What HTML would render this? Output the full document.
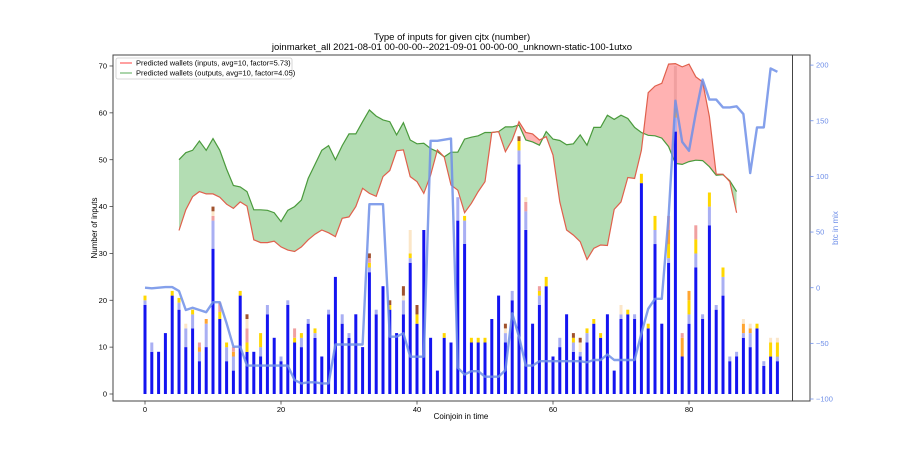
<!DOCTYPE html>
<html><head><meta charset="utf-8"><style>
body{margin:0;background:#fff;}
svg{display:block;font-family:"Liberation Sans","DejaVu Sans",sans-serif;}
</style></head><body>
<svg id="chart" width="900" height="450" viewBox="0 0 900 450" xmlns="http://www.w3.org/2000/svg">
<text x="452" y="40" font-size="9.5" text-anchor="middle" fill="#000">Type of inputs for given cjtx (number)</text>
<text x="452" y="50" font-size="9.5" text-anchor="middle" fill="#000">joinmarket_all 2021-08-01 00-00-00--2021-09-01 00-00-00_unknown-static-100-1utxo</text>
<defs>
<clipPath id="plotclip"><rect x="113" y="55" width="697" height="346"/></clipPath>
<clipPath id="belowG"><polygon id="belowGpoly"/></clipPath>
<clipPath id="belowR"><polygon id="belowRpoly"/></clipPath>
</defs>
<g id="bands" clip-path="url(#plotclip)"></g>
<g id="bars"></g>
<g id="lines" clip-path="url(#plotclip)"></g>
<rect x="113" y="55" width="697" height="346" fill="none" stroke="#444" stroke-width="1"/>
<line x1="792.5" y1="55" x2="792.5" y2="401" stroke="#444" stroke-width="1"/>
<g id="axes"></g>
<text x="461" y="419" font-size="8" text-anchor="middle">Coinjoin in time</text>
<text transform="translate(97,228) rotate(-90)" font-size="8" text-anchor="middle">Number of inputs</text>
<text transform="translate(838,228) rotate(-90)" font-size="8" text-anchor="middle" fill="#6f8fe8">btc in mix</text>
<g>
<rect x="116" y="58" width="176" height="21" fill="#fff" fill-opacity="0.8" stroke="#ccc" stroke-width="0.8" rx="2"/>
<line x1="120" y1="63" x2="132" y2="63" stroke="#ff8080" stroke-width="1.5"/>
<text x="136" y="65.5" font-size="7.5">Predicted wallets (inputs, avg=10, factor=5.73)</text>
<line x1="120" y1="73" x2="132" y2="73" stroke="#8fc78f" stroke-width="1.5"/>
<text x="136" y="75.5" font-size="7.5">Predicted wallets (outputs, avg=10, factor=4.05)</text>
</g>
</svg>
<script>
const blueVals=[19,9,9,13,21,18,10,14,7,10,31,16,7,5,21,9,9,8,17,12,7,19,11,10,15,12,8,17,25,15,12,17,10,26,17,23,18,13,17,28,15,35,12,5,12,11,37,32,11,11,11,16,21,11,20,49,35,15,19,23,8,10,17,9,8,11,15,12,17,5,16,17,16,45,14,32,15,28,56,8,15,27,16,36,18,21,7,8,12,10,14,6,8,7];
const lightVals=[1,2,0,0,0,1.5,4,3,2,5,6,0,3,3,0,0,0,2,2,0,1,1,0,2,1,1,0,1,0,2,1,0,0,1,1,0,0,0,3,1,0,0,0,0,0,0,5,5,0,0,0,0,0,2,2,3,4,0,2,0,0,2,0,2,1,2,0,0,0,0,1,0,1,0,0,3,0,1,3,0,2,3,1,4,1,4,1,1,1,3,0,1,0,1];
const yellowVals=[1,0,0,0,1,1,0,1,0,0,0,1.5,1,0,1,2,0,3,0,0,0,0,1,1,0,1,0,0,0,0,0,0,0,1,0,0,1,0,0,1,2,0,0,0,1,0,0,1,1,1,1,0,0,0,0,2,0,0,1,2,0,0,0,1,0,1,1,1,0,0,0,1,0,2,1,3,0,3,0,0,3,3,0,3,0,2,0,0,0,0,1,0,3,3];
const orangeVals=[0,0,0,0,0,0,0,0,1,1,0,0,0,1,0,0,0,0,0,0,0,0,0,0,0,0,0,0,0,0,0,0,0,0,0,0,0,0,0,0,0,0,0,0,0,0,0,0,0,0,0,0,0,0,0,0,0,0,0,0,0,0,0,0,0,0,0,0,0,0,0,0,0,0,0,0,0,3,2,4,2,0,0,0,0,0,0,0,2,1,0,0,0,0];
const pinkVals=[0,0,0,0,0,0,0,0,1,0,1,2,0,1,0,3,0,0,0,0,0,0,2,0,0,0,0,0,0,0,0,0,0,1,0,0,0,0,0,0,0,0,0,0,0,0,0,0,0,0,0,0,0,0,0,0,2,0,1,0,0,0,0,0,0,0,0,0,0,0,0,0,0,0,0,0,0,3,9,1,0,3,0,0,0,0,0,0,0,0,0,0,0,0];
const creamVals=[0,0,0,0,0,0,1,0,0,0,1,0,0,0,0,2,0,0,0,0,0,0,0,0,0,0,0,0,0,0,0,0,0,0,0,0,0,0,1,5,0,0,0,0,0,0,0,0,0,0,0,0,0,1,0,0,1,0,0,0,0,0,0,0,2,0,0,0,0,0,2,0,0,0,0,0,0,0,0,0,0,0,0,0,0,0,0,0,1,1,0,0,1,1];
const brownVals=[0,0,0,0,0,0,0,0,0,0,1,0,0,0,0,1,0,0,0,0,0,0,0,0,0,0,0,0,0,0,0,0,0,1,0,0,1,0,2,0,2,0,0,0,0,0,0,0,0,0,0,0,0,1,0,1,0,0,0,0,0,0,0,1,1,0,0,0,0,0,0,0,0,0,0,0,0,0,0,0,0,0,0,0,0,0,0,0,0,0,0,0,0,0];
const bandStart=5;
const outputsVals=[50,51.5,52,54,52,54.5,52,48,44.5,44.2,43.2,39.3,39.3,39.2,38.7,36.8,39.2,40,41.4,46,49,52,53,50,53,55.5,55.5,58.1,60.6,59.3,58.5,58.1,55.3,57.9,54.2,53.4,53.5,52.4,51.7,50.6,51.6,51.6,54.4,54.8,55.1,55.8,55.8,56,57,57,57.4,54.2,53.8,53.1,56,54.4,54.1,53.2,53.4,55.3,53.1,56.9,56.9,59.5,58.6,59.5,58.8,56.9,55.8,55.2,55.1,54.6,52.8,49.2,49,49.6,49.9,49.8,48.5,46.7,46.8,45.5,43.2];
const inputsVals=[34.9,39.3,42.1,43.2,42.7,42.7,42,40.5,39.6,41,40.1,32.9,32.3,32.3,32.6,31.4,30.7,30.4,31.4,32.9,34.1,35,34.4,33.6,37.5,37.8,40,43.9,42.8,42.2,46.4,47.7,51.9,52.1,46.4,45.3,42.8,46.7,52.1,50.6,44.6,43.5,38.7,40.7,43.2,45.3,55.8,56,51.7,54.2,58.1,55.8,55.5,54.2,54.9,51,41,35,33.9,32.5,28.7,31.1,31.8,31.7,39.4,41,46.2,46,52,64.3,65.7,66.3,70.4,70.5,69.8,70.4,67.7,66.6,59.2,46.9,46.9,45.3,38.7];
const btcVals=[0,-0.5,0,0.5,0.5,-3,-20,-18,-20,-22,-13,-13,-32,-53,-53,-70,-70,-70,-70,-70,-70,-70,-83,-86,-85,-85,-86,-86,-51,-51,-51,-51,-51,75,75,75,-44,-44,-41,-62,-62,-62,132,132,133,134,-72,-78,-75,-75,-80,-80,-80,-74,-23,-44,-70,-70,-66,-66,-66,-66,-66,-66,-66,-67,-65,-65,-60,-65,-65,-65,-65,-41,-19,-10,-10,64,168,131,123,157,187,169,169,162,162,163,156,103,144,144,197,194];
const xTicks=[0,20,40,60,80];
const yTicks=[0,10,20,30,40,50,60,70];
const rTicks=[-100,-50,0,50,100,150,200];

const NS='http://www.w3.org/2000/svg';
const X=i=>145+6.8*i;
const YL=v=>394-4.686*v;
const YR=v=>287.7-1.113*v;
function mk(tag,attrs,parent){const e=document.createElementNS(NS,tag);for(const k in attrs)e.setAttribute(k,attrs[k]);parent.appendChild(e);return e;}

// bands
const plotTop=55,plotBot=401;
const gPts=outputsVals.map((v,i)=>X(bandStart+i).toFixed(1)+','+YL(v).toFixed(1));
const rPts=inputsVals.map((v,i)=>X(bandStart+i).toFixed(1)+','+YL(v).toFixed(1));
const bx0=X(bandStart),bx1=X(bandStart+outputsVals.length-1);
document.getElementById('belowGpoly').setAttribute('points',gPts.join(' ')+' '+bx1+','+plotBot+' '+bx0+','+plotBot);
document.getElementById('belowRpoly').setAttribute('points',rPts.join(' ')+' '+bx1+','+plotBot+' '+bx0+','+plotBot);
const bands=document.getElementById('bands');
const gFill=mk('polygon',{points:rPts.join(' ')+' '+bx1+','+plotTop+' '+bx0+','+plotTop,fill:'#2ca02c','fill-opacity':'0.36','clip-path':'url(#belowG)'},bands);


const rFill=mk('polygon',{points:gPts.join(' ')+' '+bx1+','+plotTop+' '+bx0+','+plotTop,fill:'#ff0000','fill-opacity':'0.3','clip-path':'url(#belowR)'},bands);


const gLine=mk('polyline',{points:gPts.join(' '),fill:'none',stroke:'#4a9a3c','stroke-width':'1.2'},bands);


const rLine=mk('polyline',{points:rPts.join(' '),fill:'none',stroke:'#e0604c','stroke-width':'1.2'},bands);



// bars
const bars=document.getElementById('bars');
const stacks=[[blueVals,'#1414f0'],[lightVals,'#a9aff3'],[yellowVals,'#ffd700'],[orangeVals,'#ffa530'],[pinkVals,'#f0a0a0'],[creamVals,'#fbe6c8'],[brownVals,'#a0522d']];
const stackNames=['bar-blue','bar-light','bar-yellow','bar-orange','bar-pink','bar-cream','bar-brown'];
blueVals.forEach((_,i)=>{
  let base=0;
  stacks.forEach(([arr,col],s)=>{
    const v=arr[i];
    if(v>0){
      const r=mk('rect',{x:(X(i)-1.5).toFixed(1),y:YL(base+v).toFixed(1),width:3,height:(YL(base)-YL(base+v)).toFixed(1),fill:col},bars);
      
      
    }
    base+=v;
  });
});

// btc line
const lines=document.getElementById('lines');
const bl=mk('polyline',{points:btcVals.map((v,i)=>X(i).toFixed(1)+','+YR(v).toFixed(1)).join(' '),fill:'none',stroke:'#6f8fe8','stroke-width':'2.4','stroke-opacity':'0.85','stroke-linejoin':'round'},lines);



// axes
const axes=document.getElementById('axes');
xTicks.forEach(t=>{
  const l=mk('line',{x1:X(t),y1:401,x2:X(t),y2:404.5,stroke:'#444','stroke-width':'0.8'},axes);
  
  
  const tx=mk('text',{x:X(t),y:412,'font-size':'7.5','text-anchor':'middle'},axes);
  tx.textContent=t;
  
  
});
yTicks.forEach(t=>{
  const l=mk('line',{x1:109.5,y1:YL(t),x2:113,y2:YL(t),stroke:'#444','stroke-width':'0.8'},axes);
  
  
  const tx=mk('text',{x:107,y:YL(t)+2.6,'font-size':'7.5','text-anchor':'end'},axes);
  tx.textContent=t;
  
  
});
rTicks.forEach(t=>{
  const l=mk('line',{x1:810,y1:YR(t),x2:813.5,y2:YR(t),stroke:'#6f8fe8','stroke-width':'0.8'},axes);
  
  
  const tx=mk('text',{x:816,y:YR(t)+2.6,'font-size':'7.5','text-anchor':'start',fill:'#6f8fe8'},axes);
  tx.textContent=t<0?'\u2212'+(-t):t;
  
  
});
</script>
</body></html>
